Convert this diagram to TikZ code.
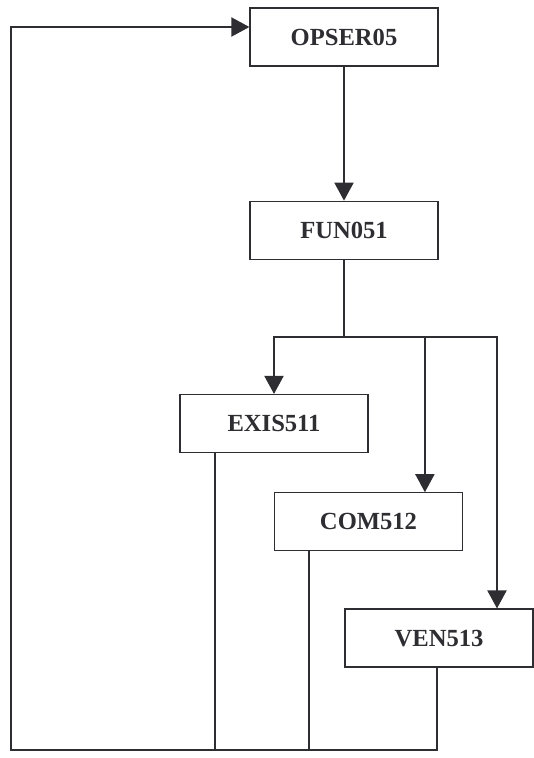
\documentclass[tikz,border=0pt]{standalone}
\usepackage{fontspec}
\setmainfont{Liberation Serif}
\usetikzlibrary{arrows.meta, positioning, calc}
\definecolor{inkgray}{RGB}{45,45,50}

\begin{document}
\begin{tikzpicture}[
    modbox/.style={
        rectangle, draw=inkgray, line width=0.9pt, fill=white, text=inkgray,
        minimum width=4.7cm, minimum height=1.45cm, align=center,
        font=\fontsize{17.5}{20}\selectfont\bfseries
    },
    arrow/.style={draw=inkgray, line width=0.9pt, -{Triangle[length=4.5mm,width=4.8mm]}},
    plain/.style={draw=inkgray, line width=0.9pt},
    node distance=3.35cm
]
\useasboundingbox (0,0) rectangle (13.325,-18.95);

\node [modbox] (opser) at (8.6,-0.925) {OPSER05};
\node [modbox, below=of opser] (fun) {FUN051};
\node [modbox, below=of fun, xshift=-1.75cm] (exis) {EXIS511};
\node [modbox, below=0.975cm of exis, xshift=2.3625cm] (com) {COM512};
\node [modbox, below=1.425cm of com, xshift=1.7625cm] (ven) {VEN513};

\draw [arrow] (opser) -- (fun);

% branch under FUN051
\coordinate (split) at ([yshift=-1.925cm]fun.south);
\draw [plain] (fun.south) -- (split);
\draw [arrow] (split) -| (exis.north);
\draw [arrow] (split) -| ([xshift=1.41cm]com.north);
\draw [arrow] (split) -| ([xshift=1.45cm]ven.north);

% return loop
\coordinate (corner) at (0.275,-18.75);
\draw [plain] ([xshift=-1.475cm]exis.south) -- ([xshift=-1.475cm]exis.south |- corner);
\draw [plain] ([xshift=-1.49cm]com.south) -- ([xshift=-1.49cm]com.south |- corner);
\draw [arrow] ([xshift=-0.05cm]ven.south) |- (corner) |- ([yshift=0.25cm]opser.west);
\end{tikzpicture}
\end{document}
